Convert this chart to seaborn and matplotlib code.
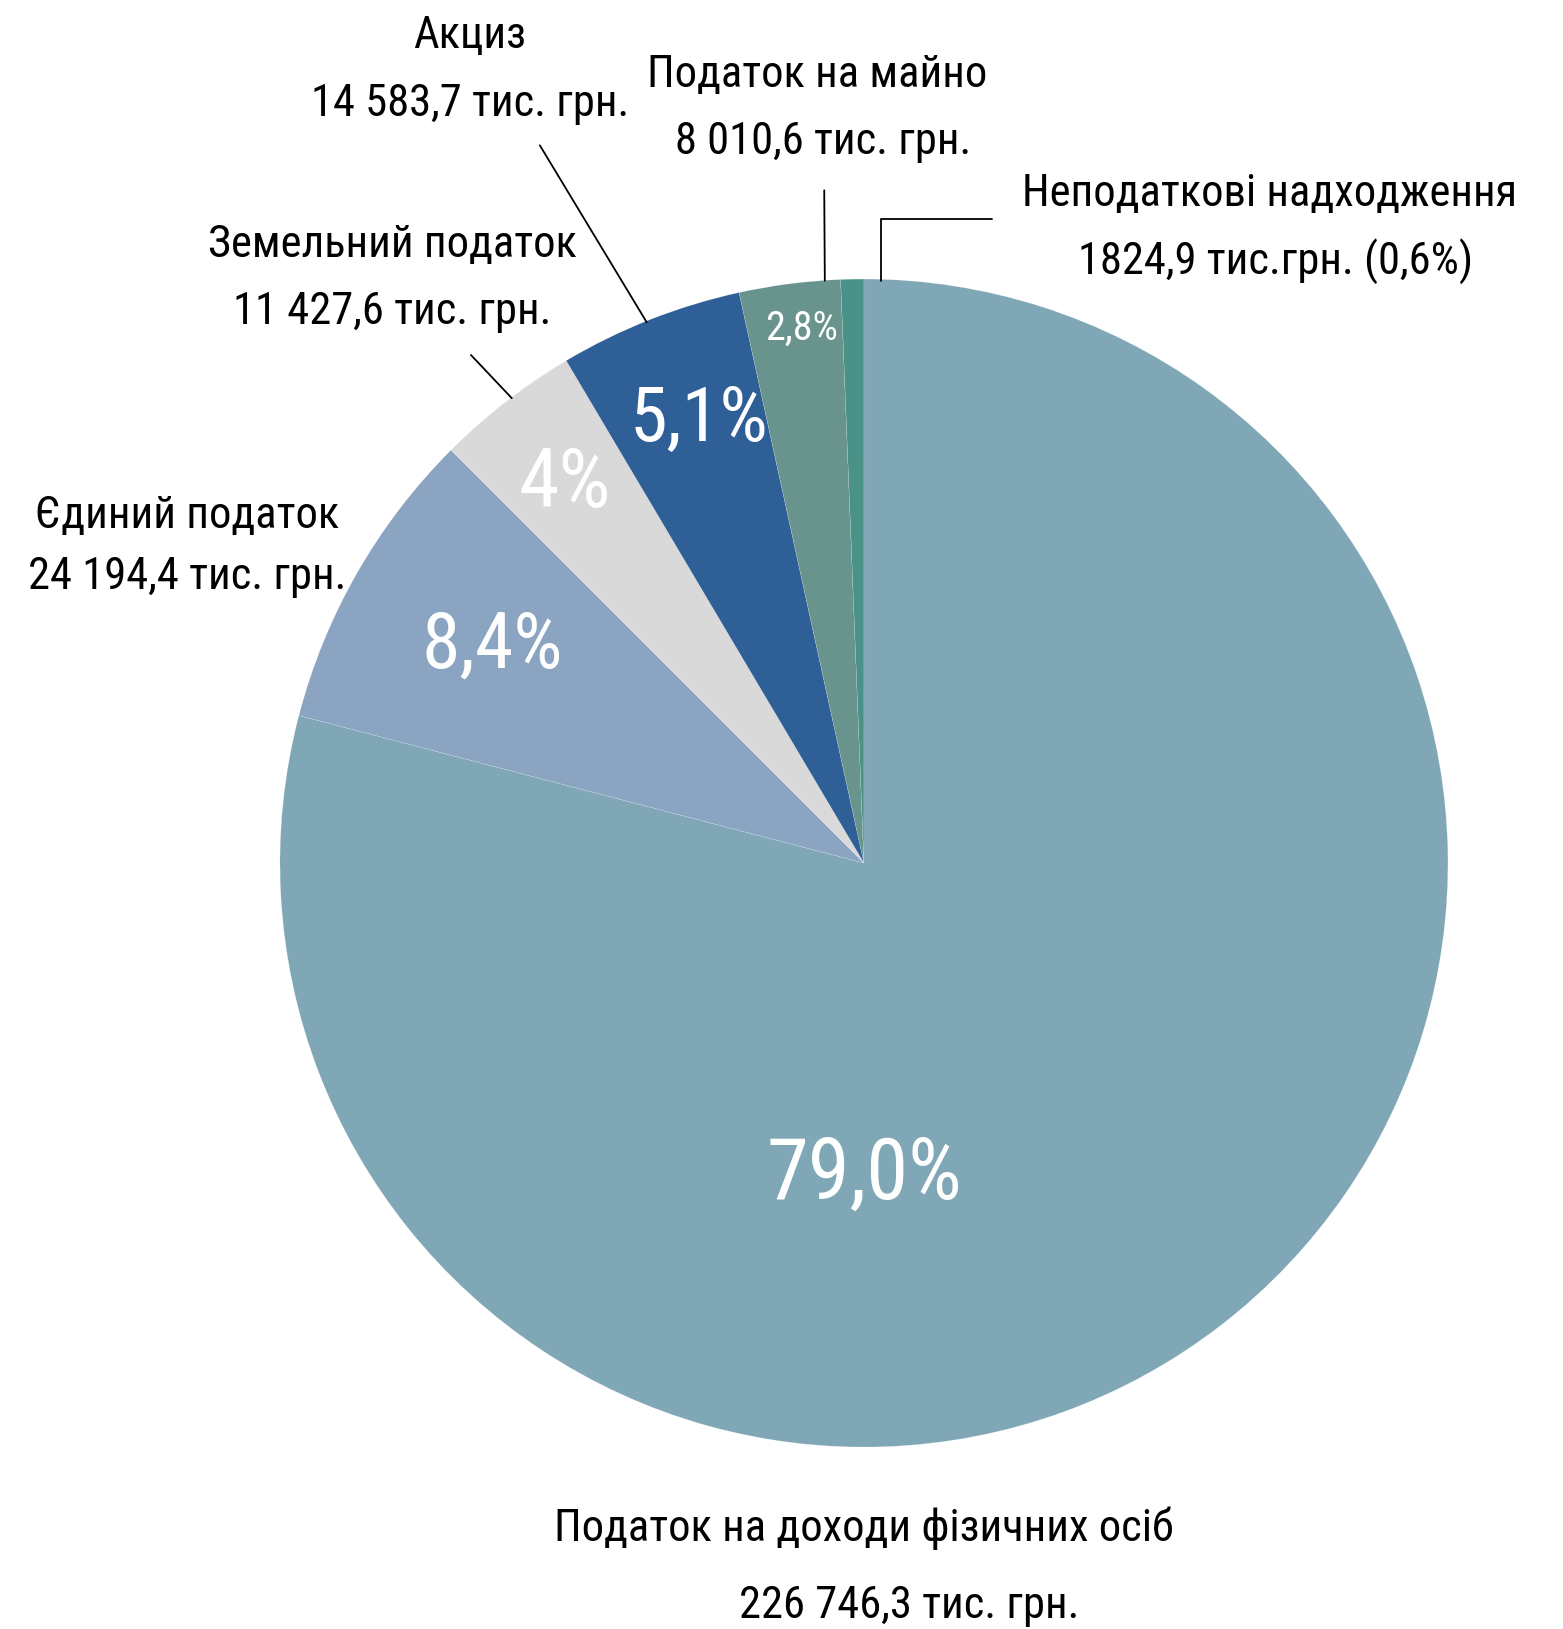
import matplotlib
matplotlib.use("Agg")
import matplotlib.pyplot as plt
import seaborn as sns
from matplotlib import font_manager

# revenue structure, thousand UAH
categories = ["Податок на доходи фізичних осіб", "Єдиний податок", "Земельний податок",
              "Акциз", "Податок на майно", "Неподаткові надходження"]
values = [226746.3, 24194.4, 11427.6, 14583.7, 8010.6, 1824.9]
pct_labels = ["79,0%", "8,4%", "4%", "5,1%", "2,8%", ""]
value_labels = ["226 746,3 тис. грн.", "24 194,4 тис. грн.", "11 427,6 тис. грн.",
                "14 583,7 тис. грн.", "8 010,6 тис. грн.", "1824,9 тис.грн. (0,6%)"]
colors = ["#80A7B5", "#8AA4C2", "#D9D9D9", "#2E5F96", "#68948D", "#4A9287"]

sns.set_theme(style="white")
names = {f.name for f in font_manager.fontManager.ttflist}
stretch = "normal"
if "Roboto Condensed" in names:
    family = "Roboto Condensed"
else:
    family = "DejaVu Sans"
    stretch = "condensed"
plt.rcParams["font.family"] = [family, "DejaVu Sans"]
plt.rcParams["font.stretch"] = stretch

fig = plt.figure(figsize=(15.63, 16.29), dpi=100)
ax = fig.add_axes([0.1791, 0.1117, 0.7473, 0.7170])

wedges, _ = ax.pie(values, colors=colors, startangle=90, counterclock=False,
                   radius=1, wedgeprops=dict(edgecolor="white", linewidth=0.1))
ax.set_xlim(-1, 1)
ax.set_ylim(-1, 1)
ax.axis("off")

# percentage labels inside wedges
pct_pos = [(0.0, -0.535), (-0.636, 0.371), (-0.512, 0.647), (-0.283, 0.757), (-0.106, 0.916)]
pct_size = [61, 56, 59, 55, 29]
for lab, (x, y), fs in zip(pct_labels, pct_pos, pct_size):
    ax.text(x, y, lab, color="white", fontsize=fs, ha="center", va="center")

# category labels outside
name_pos = [(0.0, -1.139), (-1.159, 0.594), (-0.807, 1.058), (-0.675, 1.416),
            (-0.080, 1.349), (0.695, 1.146)]
val_pos = [(0.077, -1.272), (-1.159, 0.490), (-0.807, 0.943), (-0.675, 1.300),
           (-0.070, 1.235), (0.705, 1.029)]
for cat, v, (nx, ny), (vx, vy) in zip(categories, value_labels, name_pos, val_pos):
    ax.text(nx, ny, cat, fontsize=32, ha="center", va="center", color="black", clip_on=False)
    ax.text(vx, vy, v, fontsize=32, ha="center", va="center", color="black", clip_on=False)

# leader lines
leaders = [
    ([-0.555, -0.372], [1.229, 0.926]),
    ([-0.068, -0.067], [1.152, 0.997]),
    ([0.219, 0.029, 0.029], [1.103, 1.103, 0.997]),
    ([-0.673, -0.603], [0.870, 0.796]),
]
for xs, ys in leaders:
    ax.plot(xs, ys, color="black", linewidth=1.3, clip_on=False)

fig.savefig("out.png", dpi=100, facecolor="white")
